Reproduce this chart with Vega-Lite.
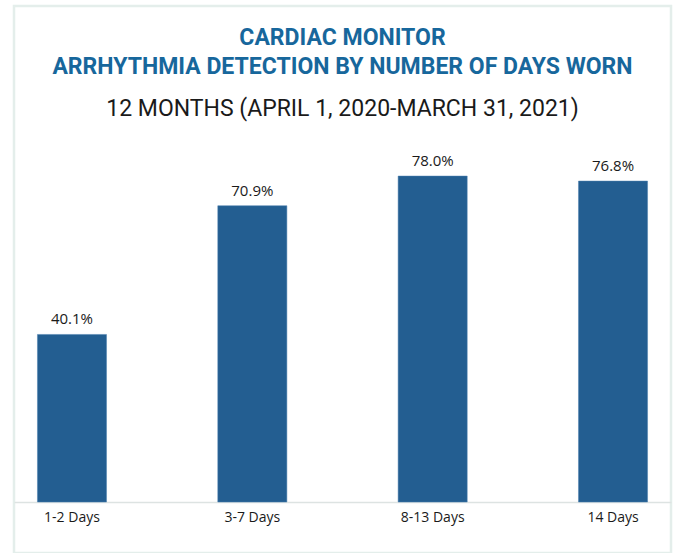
{
  "$schema": "https://vega.github.io/schema/vega-lite/v6.json",
  "autosize": {"type": "none"},
  "padding": {"left": 14, "top": 6, "right": 5, "bottom": 0},
  "width": 657,
  "height": 547,
  "background": "white",
  "title": {
    "text": ["CARDIAC MONITOR", "ARRHYTHMIA DETECTION BY NUMBER OF DAYS WORN"],
    "subtitle": "12 MONTHS (APRIL 1, 2020-MARCH 31, 2021)",
    "orient": "top",
    "anchor": "middle",
    "frame": "group",
    "offset": -115,
    "font": "Roboto",
    "fontSize": 23,
    "fontWeight": "bold",
    "color": "#17679c",
    "lineHeight": 29,
    "subtitleFont": "Roboto",
    "subtitleFontSize": 23,
    "subtitleColor": "#1a1a1a",
    "subtitlePadding": 19
  },
  "config": {
    "view": {"stroke": "#e4eeeb", "strokeWidth": 2.5},
    "font": "Open Sans"
  },
  "data": {
    "values": [
      {"days": "1-2 Days", "rate": 0.401},
      {"days": "3-7 Days", "rate": 0.709},
      {"days": "8-13 Days", "rate": 0.780},
      {"days": "14 Days", "rate": 0.768}
    ]
  },
  "encoding": {
    "x": {
      "field": "days",
      "type": "nominal",
      "sort": null,
      "scale": {"paddingInner": 0.617, "paddingOuter": 0.13},
      "axis": {
        "title": null,
        "orient": "bottom",
        "offset": -51,
        "labelAngle": 0,
        "labelFont": "Open Sans",
        "labelFontSize": 14,
        "labelColor": "#1a1a1a",
        "labelPadding": 8,
        "ticks": false,
        "grid": false,
        "domainColor": "#dde3e2",
        "domainWidth": 1.5
      }
    },
    "y": {
      "field": "rate",
      "type": "quantitative",
      "scale": {"domain": [-0.122, 1.187], "nice": false, "zero": false},
      "axis": null
    }
  },
  "layer": [
    {
      "mark": {"type": "bar", "color": "#235e91", "stroke": "#4a7fae", "strokeWidth": 0.5},
      "encoding": {"y2": {"datum": 0}}
    },
    {
      "mark": {"type": "text", "baseline": "bottom", "dy": -7, "fontSize": 15, "color": "#1a1a1a", "font": "Open Sans"},
      "encoding": {"text": {"field": "rate", "type": "quantitative", "format": ".1%"}}
    }
  ]
}
